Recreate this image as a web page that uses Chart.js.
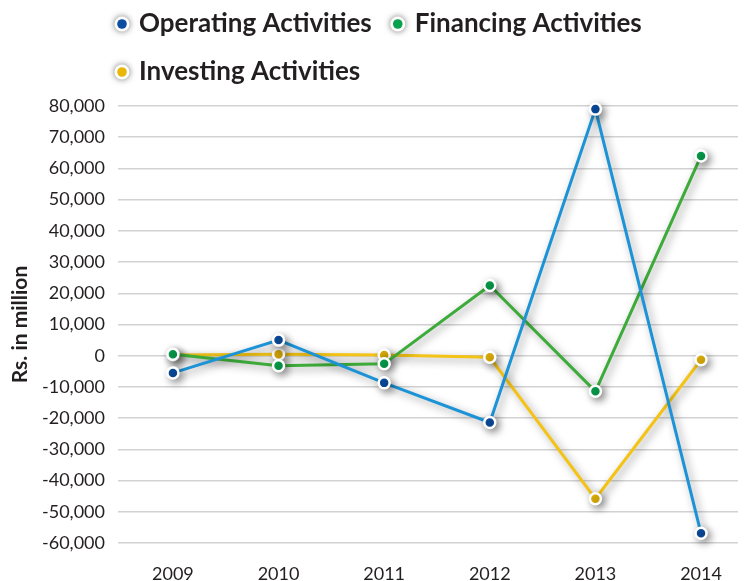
<!DOCTYPE html>
<html>
<head>
<meta charset="utf-8">
<script src="https://cdn.jsdelivr.net/npm/chart.js@4/dist/chart.umd.min.js"></script>
<style>
html,body{margin:0;padding:0;background:#fff;}
#wrap{width:746px;height:581px;position:relative;}
</style>
</head>
<body>
<div id="wrap"><canvas id="c" width="746" height="581"></canvas></div>
<script>
const years = [2009, 2010, 2011, 2012, 2013, 2014];
const operating = [-5500, 5000, -8700, -21400, 79000, -56900];
const financing = [500, -3200, -2600, 22500, -11400, 64000];
const investing = [200, 500, 200, -500, -45800, -1300];
const seriesNames = ['Operating Activities', 'Financing Activities', 'Investing Activities'];
const yTicks = [80000, 70000, 60000, 50000, 40000, 30000, 20000, 10000, 0, -10000, -20000, -30000, -40000, -50000, -60000];

const lineColors = ['#1b93d6', '#3dab3a', '#f3c316'];
const dotColors = ['#0b4ea2', '#06a24e', '#e8b70a'];

const LEGEND_FONT = 26;
const LEGEND_BOX = 8;

function toPts(arr){ return arr.map((v,i)=>({x: years[i], y: v})); }

const shadowPlugin = {
  id: 'shadow',
  beforeDatasetDraw(chart){
    const ctx = chart.ctx;
    ctx.save();
    ctx.shadowColor = 'rgba(0,0,0,0.42)';
    ctx.shadowBlur = 9;
    ctx.shadowOffsetX = 3;
    ctx.shadowOffsetY = 3;
  },
  afterDatasetDraw(chart){ chart.ctx.restore(); }
};

// redraw legend markers with a white ring and soft halo, at the library's own hitbox positions
const legendMarkers = {
  id: 'legendMarkers',
  afterDraw(chart){
    const lg = chart.legend;
    if (!lg || !lg.legendHitBoxes) return;
    const ctx = chart.ctx;
    lg.legendHitBoxes.forEach((hb, i) => {
      const cx = hb.left + LEGEND_BOX / 2;
      const cy = hb.top + LEGEND_FONT / 2;
      ctx.save();
      ctx.shadowColor = 'rgba(0,0,0,0.55)';
      ctx.shadowBlur = 6;
      ctx.shadowOffsetX = 0;
      ctx.shadowOffsetY = 0;
      ctx.fillStyle = '#ffffff';
      ctx.beginPath(); ctx.arc(cx, cy, 7.5, 0, Math.PI * 2); ctx.fill();
      ctx.restore();
      ctx.fillStyle = dotColors[i];
      ctx.beginPath(); ctx.arc(cx, cy, 4.8, 0, Math.PI * 2); ctx.fill();
    });
  }
};

const legendShift = {
  id: 'legendShift',
  afterLayout(chart){
    const lg = chart.legend;
    if (!lg) return;
    const dx = 96 - lg.left;
    lg.left += dx; lg.right += dx;
    lg.top -= 11; lg.bottom -= 11;
  }
};

const sets = [operating, financing, investing].map((arr, i) => ({
  label: seriesNames[i],
  data: toPts(arr),
  borderColor: lineColors[i],
  backgroundColor: dotColors[i],
  borderWidth: 3,
  pointRadius: 5.5,
  pointHoverRadius: 5.5,
  pointBackgroundColor: dotColors[i],
  pointBorderColor: '#ffffff',
  pointBorderWidth: 2.5,
  tension: 0,
  clip: false
}));

new Chart(document.getElementById('c'), {
  type: 'line',
  data: { datasets: sets },
  plugins: [shadowPlugin, legendShift, legendMarkers],
  options: {
    responsive: false,
    animation: false,
    events: [],
    layout: { padding: { left: 0, right: 6, top: 0, bottom: 0 } },
    plugins: {
      tooltip: { enabled: false },
      legend: {
        position: 'top',
        align: 'start',
        labels: {
          usePointStyle: true,
          pointStyle: 'circle',
          boxWidth: LEGEND_BOX,
          boxHeight: 10,
          padding: 22,
          color: '#231f20',
          font: { family: 'Lato', size: LEGEND_FONT, weight: 'bold' },
          generateLabels(chart){
            return chart.data.datasets.map((d, i) => ({
              text: d.label,
              fillStyle: dotColors[i],
              strokeStyle: '#ffffff',
              lineWidth: 2.5,
              pointStyle: 'circle',
              hidden: false,
              datasetIndex: i,
              fontColor: '#231f20'
            }));
          }
        }
      }
    },
    scales: {
      x: {
        type: 'linear',
        min: 2008.48,
        max: 2014.35,
        afterBuildTicks(scale){ scale.ticks = years.map(v => ({value: v})); },
        afterFit(scale){ scale.height = 38; },
        grid: { display: false, drawTicks: false },
        border: { display: false },
        ticks: {
          padding: 20,
          color: '#231f20',
          font: { family: 'Lato', size: 18 },
          callback: v => String(v)
        }
      },
      y: {
        min: -60000,
        max: 80000,
        afterBuildTicks(scale){ scale.ticks = yTicks.map(v => ({value: v})); },
        afterFit(scale){ scale.width = 118; },
        grid: { color: '#d2d2d2', lineWidth: 1.5, drawTicks: false },
        border: { display: false },
        ticks: {
          padding: 13,
          color: '#231f20',
          font: { family: 'Lato', size: 18 },
          callback: v => v.toLocaleString('en-US')
        },
        title: {
          display: true,
          text: 'Rs. in million',
          color: '#231f20',
          font: { family: 'Lato', size: 21, weight: 'bold' },
          padding: { top: 8, bottom: 0 }
        }
      }
    }
  }
});
</script>
</body>
</html>
